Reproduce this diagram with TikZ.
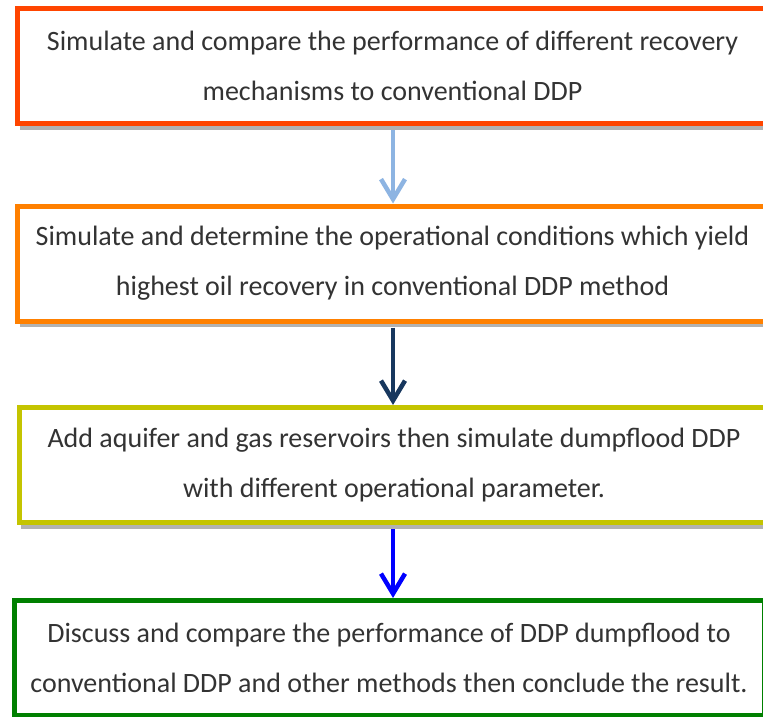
\documentclass[tikz,border=0pt]{standalone}
\usepackage{fontspec}
\setmainfont{Carlito}
\usetikzlibrary{arrows.meta,shadows,positioning}

\begin{document}
\begin{tikzpicture}[x=1pt, y=1pt, thick]

\useasboundingbox (0,0) rectangle (763,-717);

\tikzstyle{box} = [
    rectangle, draw, fill=white, line width=5pt, minimum width=750pt, minimum height=115pt,
    align=center, text=black!80, font=\fontsize{28}{50}\selectfont,
    drop shadow={shadow xshift=2pt, shadow yshift=-6pt, fill=black!60, opacity=0.5}]
\tikzstyle{flow} = [-{Straight Barb[length=20pt, width=24pt]}, line width=4.5pt, shorten <=4pt]

\node[box, draw={rgb,255:red,255;green,69;blue,0}] at (392.5,-66) (compare)
  {Simulate and compare the performance of different recovery\\mechanisms to conventional DDP};

\node[box, draw={rgb,255:red,255;green,128;blue,0}] at (392.5,-263.5) (operate)
  {Simulate and determine the operational conditions which yield\\highest oil recovery in conventional DDP method};

\node[box, draw={rgb,255:red,196;green,196;blue,0}] at (394,-465) (dumpflood)
  {Add aquifer and gas reservoirs then simulate dumpflood DDP\\with different operational parameter.};

\node[box, draw={rgb,255:red,0;green,128;blue,0}] at (389,-658) (discuss)
  {Discuss and compare the performance of DDP dumpflood to\\conventional DDP and other methods then conclude the result.};

\draw[flow, draw={rgb,255:red,141;green,180;blue,226}] (compare.south -| 393,0) -- (operate.north -| 393,0);
\draw[flow, draw={rgb,255:red,23;green,55;blue,94}] (operate.south -| 393,0) -- (dumpflood.north -| 393,0);
\draw[flow, draw={rgb,255:red,0;green,0;blue,255}] (dumpflood.south -| 393,0) -- (discuss.north -| 393,0);

\end{tikzpicture}
\end{document}
